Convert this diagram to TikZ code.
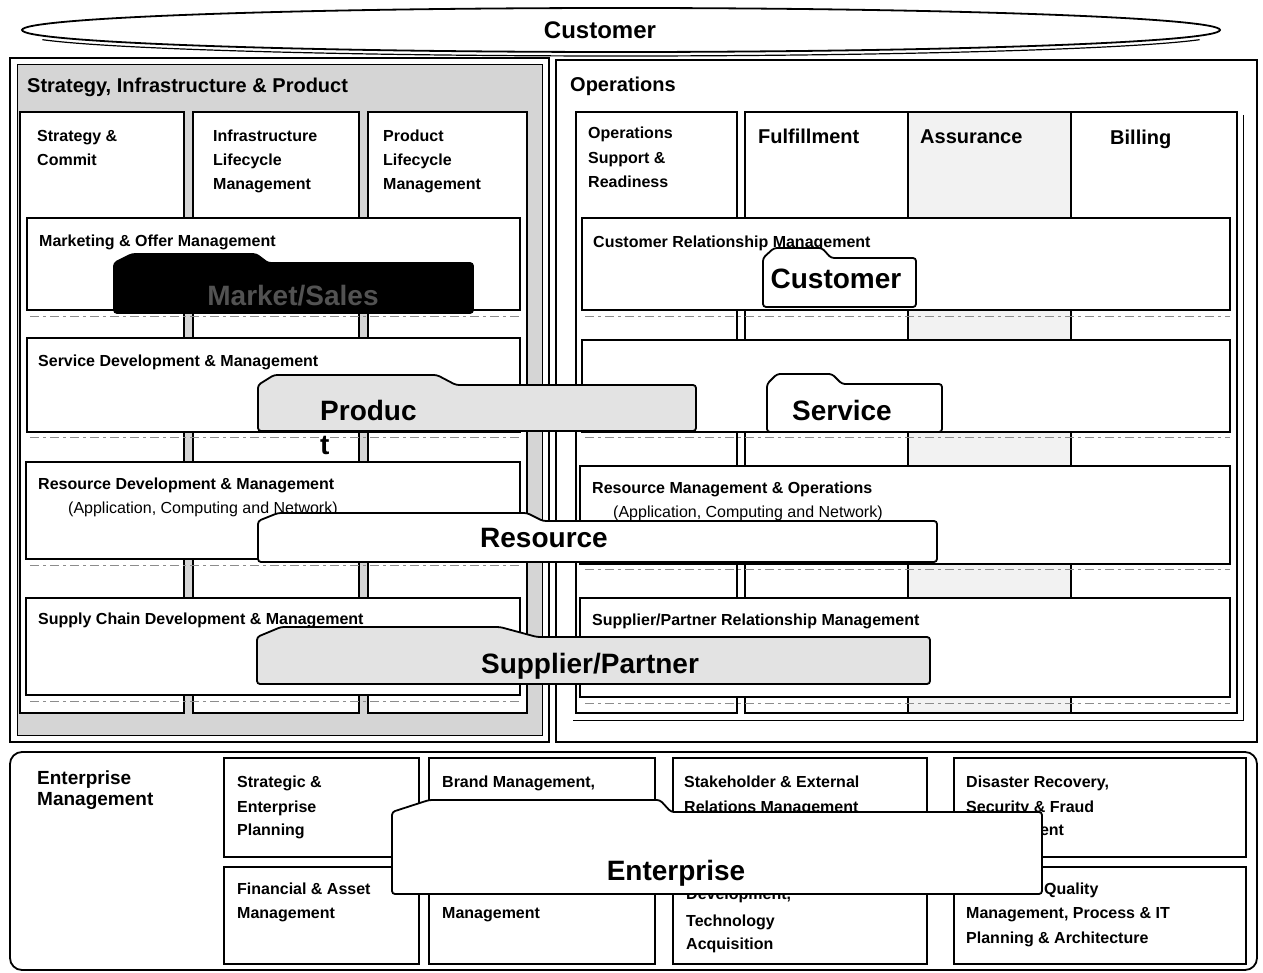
\documentclass[tikz,border=0pt]{standalone}
\usepackage{fontspec}
\setmainfont{Liberation Sans}
% tab-shaped banner: style, left, right, tab top, tab end, slope end, main top, bottom, corner dx
\newcommand\tabpath[9]{\draw[#1] (#2,#8) -- (#2,#7) -- ({#2+#9},#4) -- (#5,#4) -- (#6,#7) -- (#3,#7) -- (#3,#8) -- cycle;}
\begin{document}
\begin{tikzpicture}[x=1pt,y=-1pt,
  frame/.style={draw=black, line width=1.8pt},
  cell/.style={frame, fill=white},
  shadowline/.style={draw=black!45, line width=0.7pt, dash pattern=on 9pt off 4pt on 3pt off 4pt},
  lb/.style={anchor=west, inner sep=0pt, font=\fontsize{16}{19}\selectfont\bfseries, text height=11.5pt, text depth=0pt},
  lbr/.style={lb, font=\fontsize{16}{19}\selectfont},
  hd/.style={lb, font=\fontsize{20}{24}\selectfont\bfseries, text height=14.3pt},
  em/.style={lb, font=\fontsize{19}{22}\selectfont\bfseries, text height=13.6pt},
  big/.style={inner sep=0pt, font=\fontsize{28}{32}\selectfont\bfseries, text height=20pt, text depth=0pt},
  tabw/.style={frame, fill=white, rounded corners=3pt},
  tabg/.style={frame, fill=gray!22, rounded corners=3pt},
  tabk/.style={frame, fill=black, rounded corners=3pt}
]
\useasboundingbox (0,0) rectangle (1263,973);
\fill[white] (0,0) rectangle (1263,973);

% ---- Customer ellipse ----
\draw[frame, fill=white] (621,30) ellipse [x radius=599, y radius=22];
\draw[line width=1.2pt] (621,34) ++(165:599 and 22) arc[start angle=165, end angle=15, x radius=599, y radius=22];
\node[inner sep=0pt, font=\fontsize{24}{28}\selectfont\bfseries, text height=17.2pt, text depth=0pt] (custtop) at (600,30) {Customer};

% ---- Strategy, Infrastructure & Product ----
\draw[frame] (10,58) rectangle (549,742);
\draw[line width=1pt, fill=gray!33] (17,65) rectangle (542,735);
\draw[cell] (20,112) rectangle (184,713);
\draw[cell] (193,112) rectangle (359,713);
\draw[cell] (368,112) rectangle (527,713);
\draw[cell] (27,218) rectangle (520,310);
\draw[cell] (27,338) rectangle (520,432);
\draw[cell] (26,462) rectangle (520,559);
\draw[cell] (26,598) rectangle (520,695);
\draw[shadowline] (30,316) -- (520,316);
\draw[shadowline] (30,437) -- (520,437);
\draw[shadowline] (30,565) -- (520,565);
\draw[shadowline] (30,701) -- (520,701);

\node[hd] (sip) at (27,85) {Strategy, Infrastructure \& Product};
\node[lb] (sc1) at (37,136) {Strategy \&};
\node[lb] (sc2) at (37,160) {Commit};
\node[lb] (il1) at (213,136) {Infrastructure};
\node[lb] (il2) at (213,160) {Lifecycle};
\node[lb] (il3) at (213,184) {Management};
\node[lb] (pl1) at (383,136) {Product};
\node[lb] (pl2) at (383,160) {Lifecycle};
\node[lb] (pl3) at (383,184) {Management};
\node[lb] (mom) at (39,241) {Marketing \& Offer Management};
\node[lb] (sdm) at (38,361) {Service Development \& Management};
\node[lb] (rdm) at (38,484) {Resource Development \& Management};
\node[lbr] (rdm2) at (68,508) {(Application, Computing and Network)};
\node[lb] (scd) at (38,619) {Supply Chain Development \& Management};

% ---- Operations ----
\draw[frame] (556,60) rectangle (1257,742);
\draw[line width=0.8pt] (1243,115) -- (1243,720) -- (573,720);
\draw[cell] (576,112) rectangle (737,713);
\draw[cell] (745,112) rectangle (908,713);
\draw[frame, fill=gray!10] (908,112) rectangle (1071,713);
\draw[cell] (1071,112) rectangle (1237,713);
\draw[cell] (582,218) rectangle (1230,310);
\draw[cell] (582,340) rectangle (1230,432);
\draw[cell] (580,466) rectangle (1230,564);
\draw[cell] (580,598) rectangle (1230,697);
\draw[shadowline] (585,316) -- (1230,316);
\draw[shadowline] (585,437) -- (1230,437);
\draw[shadowline] (585,569) -- (1230,569);
\draw[shadowline] (585,703) -- (1230,703);

\node[hd] (ops) at (570,84) {Operations};
\node[lb] (osr1) at (588,133) {Operations};
\node[lb] (osr2) at (588,158) {Support \&};
\node[lb] (osr3) at (588,182) {Readiness};
\node[hd] (ful) at (758,136) {Fulfillment};
\node[hd] (asr) at (920,136) {Assurance};
\node[hd] (bil) at (1110,137) {Billing};
\node[lb] (crm) at (593,242) {Customer Relationship Management};
\node[lb] (rmo) at (592,488) {Resource Management \& Operations};
\node[lbr] (rmo2) at (613,512) {(Application, Computing and Network)};
\node[lb] (sprm) at (592,620) {Supplier/Partner Relationship Management};

% ---- Enterprise Management ----
\draw[frame, rounded corners=12pt] (10,752) rectangle (1257,970);
\node[em] (ent1) at (37,778) {Enterprise};
\node[em] (ent2) at (37,799) {Management};
\draw[cell] (224,758) rectangle (419,857);
\draw[cell] (224,867) rectangle (419,964);
\draw[cell] (429,758) rectangle (655,857);
\draw[cell] (429,867) rectangle (655,964);
\draw[cell] (673,758) rectangle (927,857);
\draw[cell] (673,867) rectangle (927,964);
\draw[cell] (954,758) rectangle (1246,857);
\draw[cell] (954,867) rectangle (1246,964);

\node[lb] (sep1) at (237,782) {Strategic \&};
\node[lb] (sep2) at (237,807) {Enterprise};
\node[lb] (sep3) at (237,830) {Planning};
\node[lb] (fam1) at (237,889) {Financial \& Asset};
\node[lb] (fam2) at (237,913) {Management};
\node[lb] (brd1) at (442,782) {Brand Management,};
\node[lb] (hrm2) at (442,913) {Management};
\node[lb] (ser1) at (684,782) {Stakeholder \& External};
\node[lb] (ser2) at (684,807) {Relations Management};
\node[lb] (rnd2) at (686,894) {Development,};
\node[lb] (rnd3) at (686,921) {Technology};
\node[lb] (rnd4) at (686,944) {Acquisition};
\node[lb] (drs1) at (966,782) {Disaster Recovery,};
\node[lb] (drs2) at (966,807) {Security \& Fraud};
\node[lb] (drs3) at (966,830) {Management};
\node[lb] (eqm1) at (1044,889) {Quality};
\node[lb] (eqm2) at (966,913) {Management, Process \& IT};
\node[lb] (eqm3) at (966,938) {Planning \& Architecture};

% ---- cross-cutting banners ----
\tabpath{tabk}{114}{473}{254}{256}{268}{263}{313}{18}
\node[big, text=white!32!black] (mks) at (293,296) {Market/Sales};
\tabpath{tabw}{763}{916}{248}{822}{831}{258}{307}{11}
\node[big] (cusb) at (836,279) {Customer};
\tabpath{tabg}{258}{696}{375}{437}{456}{385}{431}{16}
\node[big, anchor=west] (prd1) at (320,410) {Produc};
\node[big, anchor=west] (prd2) at (320,444) {t};
\tabpath{tabw}{767}{942}{374}{832}{842}{384}{432}{10}
\node[big] (svc) at (842,410) {Service};
\tabpath{tabw}{258}{937}{513}{527}{543}{521}{562}{20}
\node[big] (res) at (544,537) {Resource};
\tabpath{tabg}{257}{930}{627}{500}{537}{637}{684}{24}
\node[big] (spp) at (590,663) {Supplier/Partner};
\tabpath{tabw}{392}{1042}{800}{660}{671}{812}{894}{37}
\node[big] (entb) at (676,870) {Enterprise};
\end{tikzpicture}
\end{document}
